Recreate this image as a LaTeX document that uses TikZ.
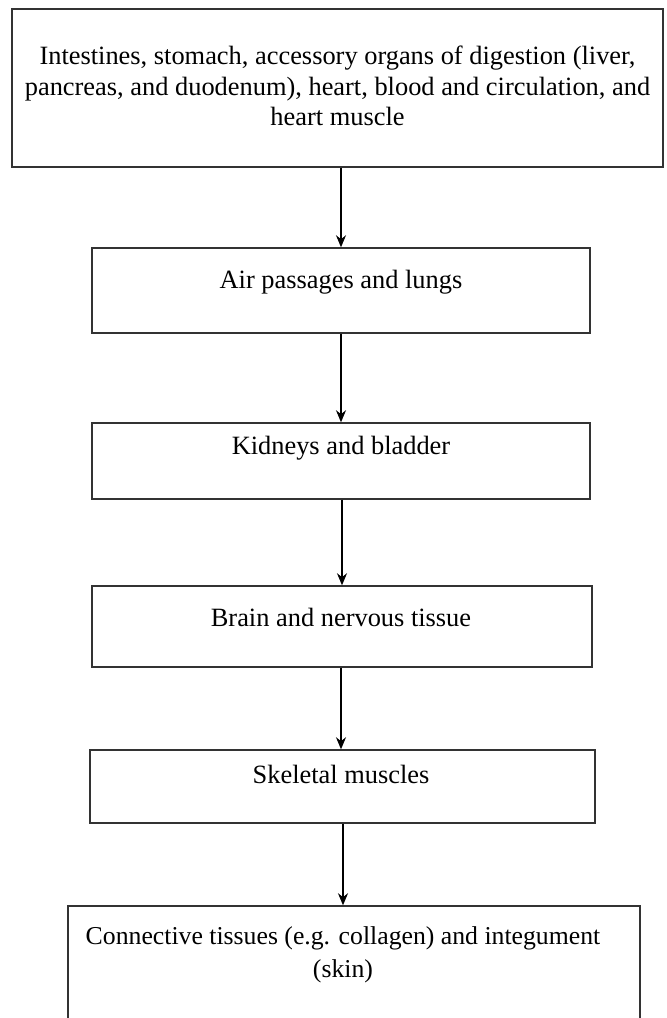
\documentclass[tikz,border=0pt]{standalone}
\usepackage{fontspec}
\setmainfont{Liberation Serif}
\usetikzlibrary{arrows.meta}
\tikzset{
  organbox/.style={draw=black!80, line width=1.1pt, inner sep=0pt},
  organtxt/.style={align=center, inner sep=0pt, font=\fontsize{19.8}{23}\selectfont},
  flow/.style={line width=0.8pt, -{Stealth[length=9pt,width=7.5pt]}}
}

\begin{document}
\begin{tikzpicture}[x=0.75pt,y=-0.75pt]
   \path[use as bounding box] (0,0) rectangle (667,1018);
   \clip (0,0) rectangle (667,1018);
   % boxes
   \node[organbox, minimum width=488.25pt, minimum height=118.5pt] (b1) at (337.5,  88.0) {};
   \node[organbox, minimum width=373.5pt,  minimum height=63.75pt] (b2) at (341.0, 290.5) {};
   \node[organbox, minimum width=373.5pt,  minimum height=57pt]    (b3) at (341.0, 461.0) {};
   \node[organbox, minimum width=375pt,    minimum height=60.75pt] (b4) at (342.0, 626.5) {};
   \node[organbox, minimum width=378.75pt, minimum height=54.75pt] (b5) at (342.5, 786.5) {};
   \node[organbox, minimum width=429pt,    minimum height=112.5pt] (b6) at (354.0, 981.0) {};
   % texts
   \node[organtxt] (t1) at (337.5,  86) {Intestines, stomach, accessory organs of digestion (liver,\\
        pancreas, and duodenum), heart, blood and circulation, and\\ heart muscle};
   \node[organtxt] (t2) at (341, 282) {Air passages and lungs};
   \node[organtxt] (t3) at (341, 448) {Kidneys and bladder};
   \node[organtxt] (t4) at (341, 617) {Brain and nervous tissue};
   \node[organtxt] (t5) at (341, 774) {Skeletal muscles};
   \node[organtxt, font=\fontsize{19.3}{24.5}\selectfont] (t6) at (343, 955) {Connective tissues (e.g. collagen) and integument\\ (skin)};
   % arrows
   \draw[flow] (b1.south -| b2.north) -- (b2.north);
   \draw[flow] (b2.south) -- (b3.north);
   \draw[flow] (b3.south -| b4.north) -- (b4.north);
   \draw[flow] (b4.south -| t5.north) -- (t5.north |- b5.north);
   \draw[flow] (b5.south -| t6.north) -- (t6.north |- b6.north);
\end{tikzpicture}
\end{document}
